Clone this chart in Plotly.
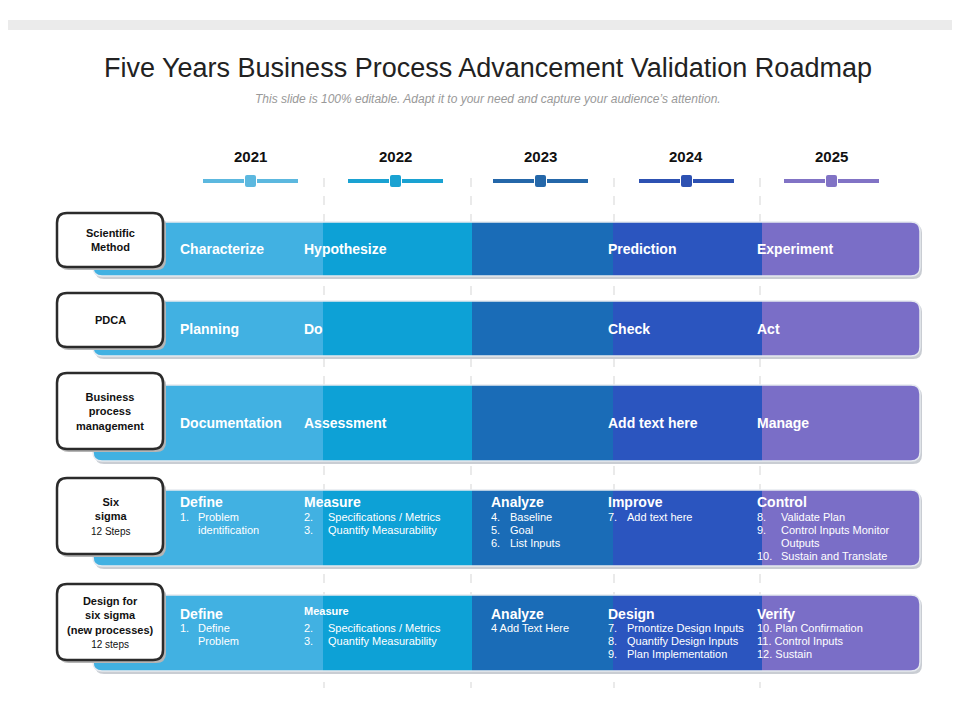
import plotly.graph_objects as go

years = ["2021", "2022", "2023", "2024", "2025"]
year_x = [242, 387, 532, 678, 823]
seg_edges = [85, 315, 464, 605, 754, 912]
seg_colors = ["#41B1E2", "#0DA1D6", "#1A6CB7", "#2B55BF", "#7A6EC7"]
marker_colors = ["#5CB8DF", "#1AA2D2", "#2467A9", "#2D51B2", "#8173C5"]
divider_x = [316, 463, 606, 752]

row_labels = ["Scientific<br>Method", "PDCA", "Business<br>process<br>management",
              "<b>Six<br>sigma</b><br><span style='font-size:10px;font-weight:normal'>12 Steps</span>",
              "Design for<br>six sigma<br>(new processes)<br><span style='font-size:10px;font-weight:normal'>12 steps</span>"]
row_box_y = [(205, 259), (285, 339), (365, 441), (470, 546), (576, 652)]
row_band_y = [(214, 268), (293, 348), (377, 453), (482, 558), (587, 663)]

col_x = [170, 294, 481, 598, 747]
simple_rows = [
    (241, ["Characterize", "Hypothesize", "", "Prediction", "Experiment"]),
    (321, ["Planning", "Do", "", "Check", "Act"]),
    (415, ["Documentation", "Assessment", "", "Add text here", "Manage"]),
]

six_heads = ["Define", "Measure", "Analyze", "Improve", "Control"]
six_nums = [["1.", ""], ["2.", "3."], ["4.", "5.", "6."], ["7."], ["8.", "9.", "", "10."]]
six_txt = [["Problem", "identification"], ["Specifications / Metrics", "Quantify Measurability"],
           ["Baseline", "Goal", "List Inputs"], ["Add text here"],
           ["Validate Plan", "Control Inputs Monitor", "Outputs", "Sustain and Translate"]]
six_indent = [18, 24, 19, 19, 24]

dfss_heads = ["Define", "Measure", "Analyze", "Design", "Verify"]
dfss_nums = [["1.", ""], ["2.", "3."], [], ["7.", "8.", "9."], []]
dfss_txt = [["Define", "Problem"], ["Specifications / Metrics", "Quantify Measurability"],
            ["4 Add Text Here"], ["Prnontize Design Inputs", "Quantify Design Inputs", "Plan Implementation"],
            ["10. Plan Confirmation", "11. Control Inputs", "12. Sustain"]]
dfss_indent = [18, 24, 0, 19, 0]

FONT = "Liberation Sans Narrow, Arial Narrow, Liberation Sans, Arial"
shapes, ann = [], []


def rrect(x0, y0, x1, y1, r, fill, line=None, lw=0, left=True, right=True):
    rl = r if left else 0
    rr = r if right else 0
    p = (f"M {x0+rl},{y0} L {x1-rr},{y1-(y1-y0)} Q {x1},{y0} {x1},{y0+rr} "
         f"L {x1},{y1-rr} Q {x1},{y1} {x1-rr},{y1} L {x0+rl},{y1} Q {x0},{y1} {x0},{y1-rl} "
         f"L {x0},{y0+rl} Q {x0},{y0} {x0+rl},{y0} Z")
    d = dict(type="path", path=p, fillcolor=fill, layer="above", xref="x", yref="y")
    d["line"] = dict(color=line, width=lw) if line else dict(width=0)
    return d


# top dotted strip
shapes.append(dict(type="rect", x0=0, x1=960, y0=12, y1=22, fillcolor="#EBEBEB", line=dict(width=0)))
# dashed dividers
for x in divider_x:
    shapes.append(dict(type="line", x0=x, x1=x, y0=170, y1=680, line=dict(color="#D5D5D5", width=1, dash="dash")))

# year labels and markers
for yr, x, c in zip(years, year_x, marker_colors):
    ann.append(dict(x=x, y=148, text=f"<b>{yr}</b>", showarrow=False, font=dict(size=15, color="#111", family="Liberation Sans, Arial")))
    shapes.append(dict(type="rect", x0=x-47, x1=x-6, y0=171, y1=175, fillcolor=c, line=dict(width=0)))
    shapes.append(dict(type="rect", x0=x+7, x1=x+48, y0=171, y1=175, fillcolor=c, line=dict(width=0)))
    shapes.append(rrect(x-5, 167, x+6, 179, 2, c))

# bands
for (y0, y1) in row_band_y:
    shapes.append(rrect(seg_edges[0]+2, y0+2, seg_edges[-1]+2, y1+3, 9, "#C9CDD3"))
    for i, c in enumerate(seg_colors):
        shapes.append(rrect(seg_edges[i], y0, seg_edges[i+1], y1, 9, c, left=(i == 0), right=(i == 4)))
    shapes.append(rrect(seg_edges[0], y0, seg_edges[-1], y1, 9, "rgba(0,0,0,0)", line="#E6EAF0", lw=1.5))

# label boxes
for lab, (y0, y1) in zip(row_labels, row_box_y):
    shapes.append(rrect(51, y0+3, 158, y1+3, 10, "#B5B5B5"))
    shapes.append(rrect(49, y0, 155, y1, 10, "white", line="#2B2B2B", lw=2.5))
    ann.append(dict(x=102, y=(y0+y1)/2, text=f"<b>{lab}</b>", showarrow=False,
                    font=dict(size=11, color="#111", family="Liberation Sans, Arial")))

wfont_h = dict(size=14, color="white", family=FONT)
wfont_s = dict(size=11, color="white", family=FONT)


def left_ann(x, y, text, font):
    ann.append(dict(x=x, y=y, text=text, showarrow=False, xanchor="left", yanchor="middle", font=font))


for y, texts in simple_rows:
    for x, t in zip(col_x, texts):
        if t:
            left_ann(x, y, f"<b>{t}</b>", wfont_h)


def detailed(heads, nums, txts, indents, yh, yi, small_measure=False):
    for k, x in enumerate(col_x):
        hf = dict(wfont_h)
        hy = yh
        if small_measure and k == 1:
            hf = dict(size=11, color="white", family=FONT)
            hy = yh - 3
        left_ann(x, hy, f"<b>{heads[k]}</b>", hf)
        for j, t in enumerate(txts[k]):
            yy = yi + 13 * j
            if j < len(nums[k]) and nums[k][j]:
                left_ann(x, yy, nums[k][j], wfont_s)
            left_ann(x + indents[k], yy, t, wfont_s)


detailed(six_heads, six_nums, six_txt, six_indent, 494, 509)
detailed(dfss_heads, dfss_nums, dfss_txt, dfss_indent, 606, 620, small_measure=True)

# title
ann.append(dict(x=480, y=60, text="Five Years Business Process Advancement Validation Roadmap", showarrow=False,
                font=dict(size=27, color="#222", family="Liberation Sans, Arial")))
ann.append(dict(x=480, y=91, text="<i>This slide is 100% editable. Adapt it to your need and capture your audience’s attention.</i>",
                showarrow=False, font=dict(size=12, color="#999", family="Liberation Sans, Arial")))

fig = go.Figure()
fig.update_layout(width=960, height=720, margin=dict(l=0, r=0, t=0, b=0),
                  paper_bgcolor="white", plot_bgcolor="white",
                  xaxis=dict(range=[0, 960], visible=False, fixedrange=True),
                  yaxis=dict(range=[720, 0], visible=False, fixedrange=True),
                  shapes=shapes, annotations=ann, showlegend=False)
fig.write_html("out.html")
